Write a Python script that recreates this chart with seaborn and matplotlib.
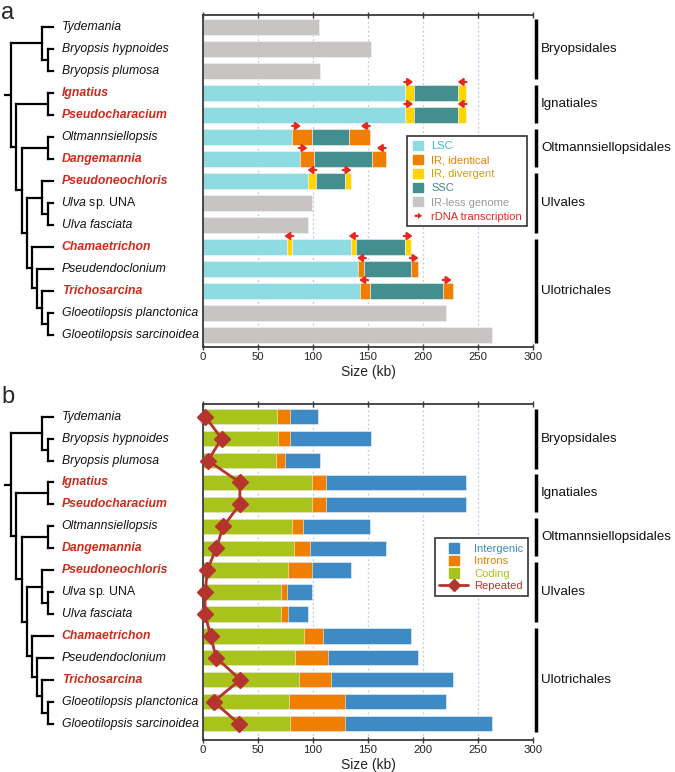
import numpy as np
import pandas as pd
import seaborn as sns
import matplotlib.pyplot as plt
import matplotlib.patches as mpatches
from matplotlib.lines import Line2D
from matplotlib.legend_handler import HandlerPatch

sns.set_theme(style="white")
plt.rcParams['font.family'] = ['Liberation Sans', 'DejaVu Sans']
plt.rcParams['mathtext.fontset'] = 'custom'
plt.rcParams['mathtext.it'] = 'Liberation Sans:italic'
plt.rcParams['mathtext.rm'] = 'Liberation Sans'

# species, top to bottom
species = ["Tydemania", "Bryopsis hypnoides", "Bryopsis plumosa", "Ignatius",
           "Pseudocharacium", "Oltmannsiellopsis", "Dangemannia", "Pseudoneochloris",
           "Ulva sp. UNA", "Ulva fasciata", "Chamaetrichon", "Pseudendoclonium",
           "Trichosarcina", "Gloeotilopsis planctonica", "Gloeotilopsis sarcinoidea"]
new_taxa = ["Ignatius", "Pseudocharacium", "Dangemannia", "Pseudoneochloris",
            "Chamaetrichon", "Trichosarcina"]

# order groups: name, first row, last row
orders = [("Bryopsidales", 0, 2), ("Ignatiales", 3, 4), ("Oltmannsiellopsidales", 5, 6),
          ("Ulvales", 7, 9), ("Ulotrichales", 10, 14)]

# panel a: genome segments (type, end position in kb)
seg_types = [["none"], ["none"], ["none"],
             ["LSC", "IRd", "SSC", "IRd"],
             ["LSC", "IRd", "SSC", "IRd"],
             ["LSC", "IRi", "SSC", "IRi"],
             ["LSC", "IRi", "SSC", "IRi"],
             ["LSC", "IRd", "SSC", "IRd"],
             ["none"], ["none"],
             ["LSC", "IRd", "LSC", "IRd", "SSC", "IRd"],
             ["LSC", "IRi", "SSC", "IRi"],
             ["LSC", "IRi", "SSC", "IRi"],
             ["none"], ["none"]]
seg_ends = [[105], [153], [106.5],
            [183.5, 191.5, 232, 239],
            [183.5, 191.5, 232, 239],
            [80.5, 99.5, 133, 152],
            [88, 100.5, 153.5, 166],
            [95, 102.5, 129, 134.5],
            [99.5], [95.5],
            [76, 81, 134.5, 139, 184, 189],
            [140.5, 146.5, 189.5, 195.5],
            [142.5, 151.5, 218, 227],
            [221], [262.5]]

# rDNA operons: position (kb) and direction of transcription
rdna_pos = [[], [], [], [187, 235.5], [187, 235.5], [85, 147.5], [91, 162], [99, 131],
            [], [], [78, 136.5, 186.5], [144, 192], [146, 222], [], []]
rdna_dir = [[], [], [], [1, -1], [1, -1], [1, -1], [1, -1], [-1, 1],
            [], [], [-1, -1, 1], [-1, 1], [-1, 1], [], []]

# panel b: composition (kb)
coding = [67.5, 68, 66, 99, 99, 80.5, 82.5, 77, 71, 71, 91.5, 84, 87, 78.5, 79.5]
introns = [12, 11, 8.5, 12.5, 12.5, 10.5, 14.5, 22, 5.5, 6, 18, 30, 29, 50.5, 49.5]
intergenic = [25, 74, 32, 127.5, 127.5, 61, 69, 35.5, 23, 18.5, 79.5, 81.5, 111, 92, 133.5]
repeated = [2, 17, 4.5, 33.5, 33.5, 18.5, 12, 4, 2, 1.8, 7, 12, 34, 9.7, 32.5]

# tree: (node x in px, children); leaves are row indices
tree = (10.7, [(41.7, [0, (48.3, [1, 2])]),
               (16.0, [(48.3, [3, 4]),
                       (21.7, [(48.3, [5, 6]),
                               (26.7, [(41.7, [7, (48.3, [8, 9])]),
                                       (31.7, [10, (36.7, [11, (41.7, [12, (48.3, [13, 14])])])])])])])])

seg_colors = {"LSC": "#8edbe2", "IRi": "#f07f00", "IRd": "#fed500",
              "SSC": "#438e8f", "none": "#c8c4c3"}
c_coding, c_intron, c_inter, c_rep = "#a8c41c", "#f07f00", "#3d8ac4", "#b5352e"
red = "#e5281f"
W, H = 675, 772


def draw_tree(ax, node, tip_x=53):
    if isinstance(node, int):
        return tip_x, node
    x, kids = node
    pts = [draw_tree(ax, k) for k in kids]
    ys = [p[1] for p in pts]
    for cx, cy in pts:
        ax.plot([x, cx], [cy, cy], color="black", lw=1.6, solid_capstyle="projecting")
    ax.plot([x, x], [min(ys), max(ys)], color="black", lw=1.6, solid_capstyle="projecting")
    return x, (ys[0] + ys[-1]) / 2


def square(legend, orig_handle, xdescent, ydescent, width, height, fontsize):
    s = height * 0.95
    return mpatches.Rectangle((-xdescent + (width - s) / 2, -ydescent + (height - s) / 2), s, s)


def arrow(legend, orig_handle, xdescent, ydescent, width, height, fontsize):
    return mpatches.FancyArrow(-xdescent + width * 0.25, -ydescent + height / 2, width * 0.55, 0,
                               width=height * 0.22, head_width=height * 0.65,
                               head_length=width * 0.3, length_includes_head=True)


def style_axes(ax, ylim):
    ax.set_xlim(0, 300)
    ax.set_ylim(*ylim)
    ax.set_xticks(range(0, 301, 50))
    ax.set_yticks([])
    ax.set_ylabel("")
    ax.grid(axis="x", ls=(0, (1.5, 2)), color="#c4c4ea", lw=0.9)
    ax.set_axisbelow(True)
    for s in ["left", "top", "bottom"]:
        ax.spines[s].set_color("#3a3a3a")
        ax.spines[s].set_linewidth(1.3)
    ax.spines["right"].set_visible(False)
    ax.tick_params(axis="x", top=True, bottom=True, direction="inout", length=4, width=1,
                   color="#3a3a3a", labelsize=8.2, labelcolor="#222222", pad=1.5)
    ax.set_xlabel("Size (kb)", fontsize=10, color="#222222", labelpad=2)
    tr = ax.get_yaxis_transform()
    for name, a, b in orders:
        ax.plot([1.008, 1.008], [a - 0.37, b + 0.37], transform=tr, color="black",
                lw=2.5, clip_on=False, solid_capstyle="butt")
        ax.text(1.025, (a + b) / 2, name, transform=tr, fontsize=9.6, va="center",
                ha="left", color="#111111")


def tree_panel(fig, top, bottom, ylim):
    tax = fig.add_axes([0, 1 - bottom / H, 203 / W, (bottom - top) / H])
    tax.set_xlim(0, 203)
    tax.set_ylim(*ylim)
    tax.axis("off")
    rx, ry = draw_tree(tax, tree)
    tax.plot([4, rx], [ry, ry], color="black", lw=1.6, solid_capstyle="butt")
    for i, name in enumerate(species):
        if name in new_taxa:
            tax.text(61.7, i, name, fontsize=8.8, style="italic", weight="bold",
                     color="#cf2a1b", va="center")
        elif name == "Ulva sp. UNA":
            tax.text(61.0, i, r"$\mathit{Ulva}$ sp. UNA", fontsize=8.8, color="#111111",
                     va="center")
        else:
            tax.text(61.7, i, name, fontsize=8.8, style="italic", color="#111111",
                     va="center")


fig = plt.figure(figsize=(W / 100, H / 100), dpi=100)

# ---- panel a ----
ylim_a = (14.545, -0.545)
ax1 = fig.add_axes([203 / W, 1 - 347 / H, 330 / W, 332 / H])
for i, (types, ends) in enumerate(zip(seg_types, seg_ends)):
    left = 0
    for t, e in zip(types, ends):
        ax1.barh(i, e - left, left=left, height=0.7, color=seg_colors[t],
                 edgecolor="#f4f4f4", linewidth=0.4)
        left = e
    for x, d in zip(rdna_pos[i], rdna_dir[i]):
        ax1.annotate("", xy=(x + 4 * d, i - 0.5), xytext=(x - 4 * d, i - 0.5),
                     arrowprops=dict(arrowstyle="-|>,head_length=0.42,head_width=0.3",
                                     mutation_scale=7, color=red, lw=1.6,
                                     shrinkA=0, shrinkB=0),
                     annotation_clip=False)
style_axes(ax1, ylim_a)

handles_a = [mpatches.Patch(color=seg_colors[k]) for k in ["LSC", "IRi", "IRd", "SSC", "none"]]
handles_a.append(mpatches.FancyArrow(0, 0, 1, 0, color=red, lw=0))
labels_a = ["LSC", "IR, identical", "IR, divergent", "SSC", "IR-less genome", "rDNA transcription"]
leg1 = ax1.legend(handles_a, labels_a, loc="upper left", bbox_to_anchor=(0.618, 0.636),
                  fontsize=8, handlelength=1.2, handleheight=1.0, handletextpad=0.6,
                  labelspacing=0.3, borderpad=0.4, borderaxespad=0, fancybox=False,
                  framealpha=1, edgecolor="#333333",
                  handler_map={mpatches.FancyArrow: HandlerPatch(patch_func=arrow),
                               mpatches.Patch: HandlerPatch(patch_func=square)})
leg1.get_frame().set_linewidth(1.2)
for txt, c in zip(leg1.get_texts(), ["#3eb6c8", "#f07f00", "#c9a400", "#3a8b8d", "#999999", red]):
    txt.set_color(c)

tree_panel(fig, 15, 347, ylim_a)

# ---- panel b ----
ylim_b = (14.75, -0.58)
df = pd.DataFrame({"species": species, "coding": coding,
                   "coding_introns": np.add(coding, introns),
                   "total": np.add(np.add(coding, introns), intergenic)})
ax2 = fig.add_axes([203 / W, 1 - 740 / H, 330 / W, 336 / H])
for col, c in [("total", c_inter), ("coding_introns", c_intron), ("coding", c_coding)]:
    sns.barplot(data=df, x=col, y="species", order=species, color=c, saturation=1,
                width=0.7, errorbar=None, edgecolor="#f4f4f4", linewidth=0.4, ax=ax2)
ax2.plot(repeated, range(len(species)), color=c_rep, lw=2, marker="D", ms=8,
         clip_on=False, zorder=5)
style_axes(ax2, ylim_b)

handles_b = [mpatches.Patch(color=c_inter), mpatches.Patch(color=c_intron),
             mpatches.Patch(color=c_coding),
             Line2D([], [], color=c_rep, lw=2, marker="D", ms=6)]
leg2 = ax2.legend(handles_b, ["Intergenic", "Introns", "Coding", "Repeated"],
                  loc="upper left", bbox_to_anchor=(0.703, 0.6), fontsize=8,
                  handlelength=2.6, handleheight=1.0, handletextpad=0.5,
                  labelspacing=0.16, borderpad=0.4, borderaxespad=0, fancybox=False,
                  framealpha=1, edgecolor="#333333",
                  handler_map={mpatches.Patch: HandlerPatch(patch_func=square)})
leg2.get_frame().set_linewidth(1.2)
for txt, c in zip(leg2.get_texts(), [c_inter, c_intron, c_coding, c_rep]):
    txt.set_color(c)

tree_panel(fig, 404, 740, ylim_b)

fig.text(0.002, 1 - 19 / H, "a", fontsize=17, va="baseline", ha="left")
fig.text(0.002, 1 - 403 / H, "b", fontsize=17, va="baseline", ha="left")

fig.savefig("out.png", dpi=100)
